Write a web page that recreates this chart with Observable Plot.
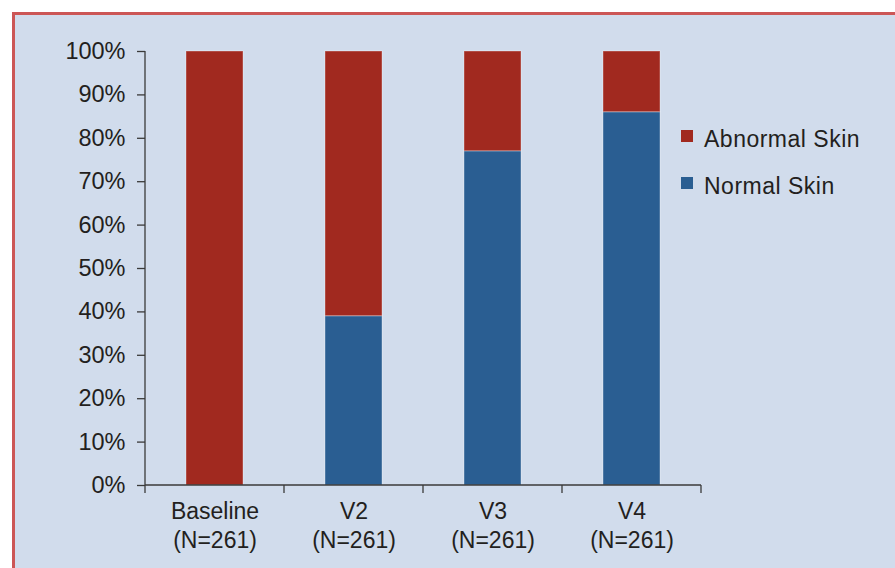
<!DOCTYPE html>
<html>
<head>
<meta charset="utf-8">
<script src="https://cdn.jsdelivr.net/npm/d3@7"></script>
<script src="https://cdn.jsdelivr.net/npm/@observablehq/plot@0.6"></script>
<style>
  body { margin: 0; background: #ffffff; font-family: "Liberation Sans", Arial, Helvetica, sans-serif; }
  #wrap { position: relative; width: 895px; height: 568px; overflow: hidden; }
  #frame { position: absolute; left: 12px; top: 12px; right: -20px; bottom: -20px; background: #d1dcec;
           border-top: 3px solid #cc5656; border-left: 3px solid #cc5656; }
  #chart { position: absolute; left: 0; top: 0; }
  #legend { position: absolute; left: 681px; top: 125px; color: #231f20; }
  .item { position: relative; height: 47px; width: 200px; }
  .sw { position: absolute; left: 0; top: 5px; width: 12px; height: 12px; }
  .lab { position: absolute; left: 23px; top: 1px; font-size: 23px; line-height: 26px; letter-spacing: 0.5px; white-space: nowrap; }
</style>
</head>
<body>
<div id="wrap">
  <div id="frame"></div>
  <div id="chart"></div>
  <div id="legend"></div>
</div>
<script>
// ---- data ----
const categories = ["Baseline", "V2", "V3", "V4"];
const sampleSizes = [261, 261, 261, 261];
const series = ["Normal Skin", "Abnormal Skin"];
const seriesColors = ["#2a5e92", "#a1291f"];
const normalSkin = [0, 39, 77, 86];
const abnormalSkin = [100, 61, 23, 14];
const yTicks = [0, 10, 20, 30, 40, 50, 60, 70, 80, 90, 100];
const legendOrder = ["Abnormal Skin", "Normal Skin"];

const rows = categories.flatMap((c, i) => [
  {cat: c, series: series[0], value: normalSkin[i]},
  {cat: c, series: series[1], value: abnormalSkin[i]}
]);

const axisColor = "#3a3a3a";

function axisLines(index, scales, values, dimensions) {
  const x = scales.x, y = scales.y;
  const {marginLeft, marginRight, width} = dimensions;
  const step = x.step ? x.step() : (width - marginLeft - marginRight) / categories.length;
  const bw = x.bandwidth ? x.bandwidth() : 0;
  const edges = categories.map(c => x(c) + bw / 2 - step / 2)
    .concat([x(categories[categories.length - 1]) + bw / 2 + step / 2]);
  const y0 = y(0), y1 = y(100);
  const g = d3.create("svg:g").attr("stroke", axisColor).attr("stroke-width", 1.3).attr("fill", "none");
  g.append("line").attr("x1", edges[0]).attr("x2", edges[0]).attr("y1", y1).attr("y2", y0);
  g.append("line").attr("x1", edges[0]).attr("x2", edges[edges.length - 1]).attr("y1", y0).attr("y2", y0);
  edges.forEach(e => g.append("line").attr("x1", e).attr("x2", e).attr("y1", y0).attr("y2", y0 + 8));
  return g.node();
}

const plot = Plot.plot({
  width: 895,
  height: 568,
  marginLeft: 145,
  marginRight: 194,
  marginTop: 51,
  marginBottom: 83,
  style: {background: "transparent", fontFamily: "'Liberation Sans', Arial, sans-serif", fontSize: "23px", color: "#231f20", overflow: "visible"},
  x: {domain: categories, paddingInner: 0.59, paddingOuter: 0.295, axis: null, label: null},
  y: {domain: [0, 100], axis: null, label: null},
  color: {domain: series, range: seriesColors},
  marks: [
    Plot.barY(rows, {x: "cat", y: "value", fill: "series", stroke: "#ffffff", strokeOpacity: 0.35, strokeWidth: 1}),
    Plot.axisY({ticks: yTicks, label: null, tickSize: 8, tickPadding: 12, tickFormat: d => d + "%", stroke: axisColor, strokeWidth: 1.3, fontSize: 23.5, fill: "#231f20"}),
    Plot.axisX({label: null, tickSize: 0, tickPadding: 13, lineHeight: 1.26, fontSize: 23, fill: "#231f20",
      tickFormat: d => `${d}\n(N=${sampleSizes[categories.indexOf(d)]})`}),
    axisLines
  ]
});
document.getElementById("chart").appendChild(plot);

const legend = document.getElementById("legend");
legendOrder.forEach(s => {
  const item = document.createElement("div");
  item.className = "item";
  const sw = document.createElement("div");
  sw.className = "sw";
  sw.style.background = seriesColors[series.indexOf(s)];
  const lab = document.createElement("div");
  lab.className = "lab";
  lab.textContent = s;
  item.appendChild(sw);
  item.appendChild(lab);
  legend.appendChild(item);
});
</script>
</body>
</html>
